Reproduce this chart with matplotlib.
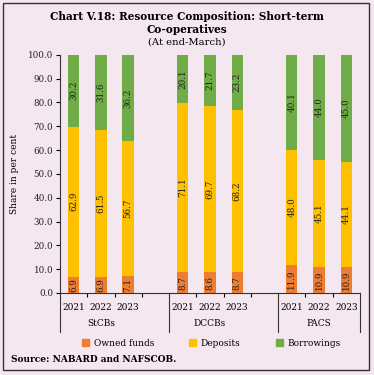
import matplotlib.pyplot as plt
from matplotlib.patches import Rectangle, Patch

groups = ["StCBs", "DCCBs", "PACS"]
years = ["2021", "2022", "2023"]
owned = [6.9, 6.9, 7.1, 8.7, 8.6, 8.7, 11.9, 10.9, 10.9]
deposits = [62.9, 61.5, 56.7, 71.1, 69.7, 68.2, 48.0, 45.1, 44.1]
borrow = [30.2, 31.6, 36.2, 20.1, 21.7, 23.2, 40.1, 44.0, 45.0]

bg = "#f4e7ef"
c_own, c_dep, c_bor = "#ed7d31", "#ffc000", "#70ad47"
plt.rcParams["font.family"] = ["DejaVu Serif"]

fig = plt.figure(figsize=(3.74, 3.75), dpi=100, facecolor=bg)
ax = fig.add_axes([0.1604, 0.2187, 0.802, 0.6354], facecolor=bg)

# bar slots: 3 bars per group then a gap slot
xpos = [0.5, 1.5, 2.5, 4.5, 5.5, 6.5, 8.5, 9.5, 10.5]
w = 0.42
b2 = [o + d for o, d in zip(owned, deposits)]
ax.bar(xpos, owned, w, color=c_own)
ax.bar(xpos, deposits, w, bottom=owned, color=c_dep)
ax.bar(xpos, borrow, w, bottom=b2, color=c_bor)

for x, o, d, b in zip(xpos, owned, deposits, borrow):
    for val, mid in [(o, o / 2), (d, o + d / 2), (b, o + d + b / 2)]:
        ax.text(x, mid, f"{val:.1f}", rotation=90, ha="center", va="center",
                fontsize=6.3, color="#222222")

ax.set_xlim(0, 11)
ax.set_ylim(0, 100)
ax.set_yticks(range(0, 101, 10))
ax.set_yticklabels([f"{v:.1f}" for v in range(0, 101, 10)], fontsize=6.3, color="#222222")
ax.tick_params(axis="y", length=3, width=0.8, pad=2)
ax.set_ylabel("Share in per cent", fontsize=6.5, labelpad=6)
ax.set_xticks([1, 2, 3, 5, 6, 7, 9, 10])
ax.set_xticklabels([])
ax.tick_params(axis="x", length=3, width=0.8)
for s in ["top", "right"]:
    ax.spines[s].set_visible(False)
ax.spines["left"].set_color("#333333")
ax.spines["bottom"].set_color("#333333")

# group separators and labels
for xb in [0, 4, 8, 11]:
    ax.plot([xb, xb], [0, -16.4], color="#333333", lw=0.8, clip_on=False)
for gi, g in enumerate(groups):
    for yi, y in enumerate(years):
        ax.text(xpos[gi * 3 + yi], -6.3, y, ha="center", va="center", fontsize=6.5)
    ax.text(xpos[gi * 3 + 1], -12.6, g, ha="center", va="center", fontsize=6.5)

fig.text(0.5, 0.957, "Chart V.18: Resource Composition: Short-term", ha="center",
         va="center", fontsize=7.6, fontweight="bold")
fig.text(0.5, 0.922, "Co-operatives", ha="center", va="center", fontsize=7.6, fontweight="bold")
fig.text(0.5, 0.888, "(At end-March)", ha="center", va="center", fontsize=7.2)

handles = [Patch(color=c_own), Patch(color=c_dep), Patch(color=c_bor)]
fig.legend(handles, ["Owned funds", "Deposits", "Borrowings"], loc="center",
           bbox_to_anchor=(0.565, 0.085), ncol=3, frameon=False, fontsize=6.5,
           handlelength=0.8, handleheight=0.8, columnspacing=3.9, handletextpad=0.5)

fig.text(0.03, 0.04, "Source: NABARD and NAFSCOB.", ha="left", va="center",
         fontsize=6.5, fontweight="bold")

fig.patches.append(Rectangle((0.008, 0.013), 0.979, 0.978, transform=fig.transFigure,
                             fill=False, edgecolor="#333333", lw=1.0))

fig.savefig("out.png", dpi=100, facecolor=bg)
